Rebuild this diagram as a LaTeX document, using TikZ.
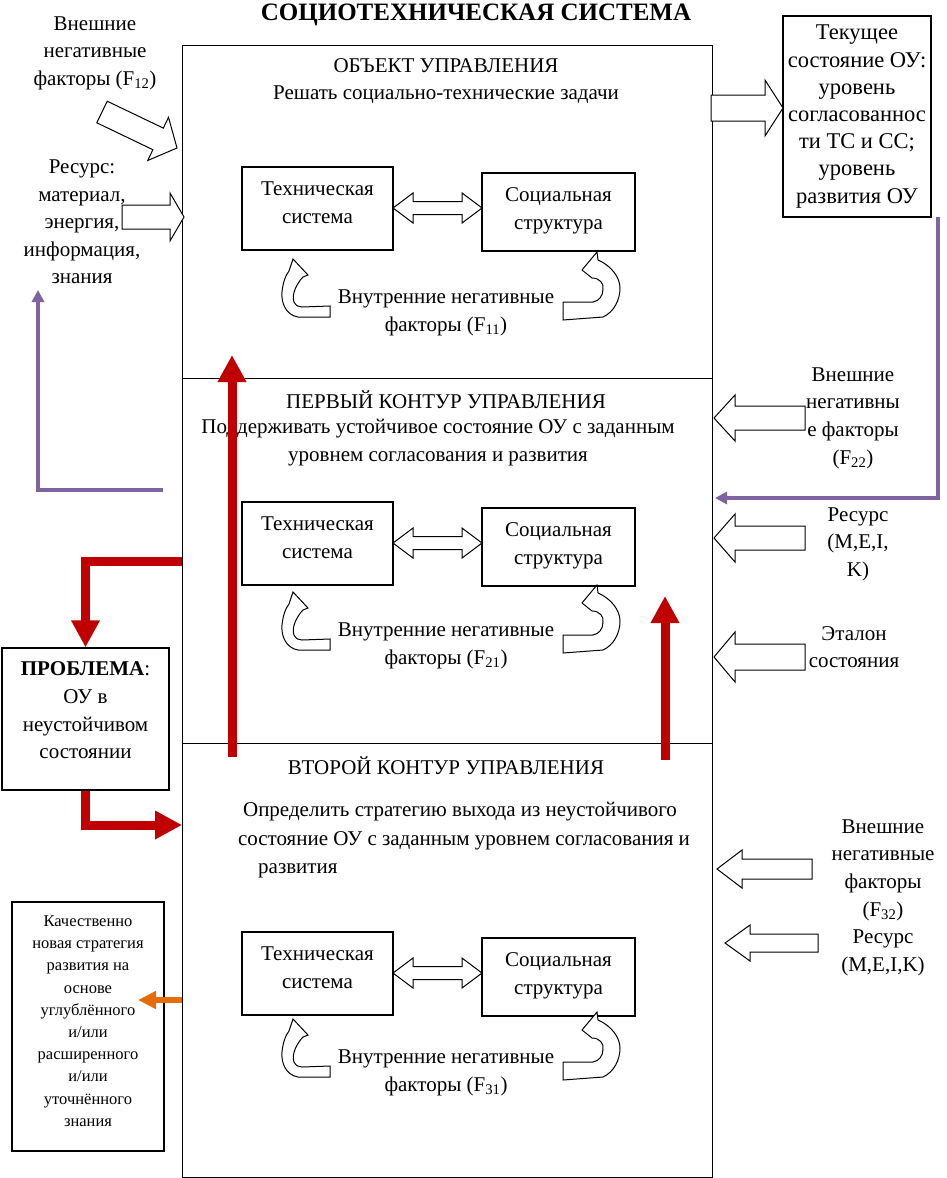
\documentclass[tikz,border=0pt]{standalone}
\usepackage{fontspec}
\setmainfont{Liberation Serif}
\usetikzlibrary{arrows.meta}
\definecolor{redA}{HTML}{C00000}
\definecolor{purp}{HTML}{8064A2}
\definecolor{orng}{HTML}{E46C0A}
\tikzset{
  txt/.style={inner sep=0pt, align=center, font=\fontsize{21}{27.6}\selectfont},
  frame/.style={draw, line width=1.3pt, inner sep=0pt},
  hollow/.style={draw, fill=white, line width=1pt, line join=miter},
  redarr/.style={draw=redA, line width=9pt, -{Triangle[width=27pt,length=27pt]}},
  purparr/.style={draw=purp, line width=3.5pt, -{Triangle[width=12pt,length=12pt]}},
  orarr/.style={draw=orng, line width=6pt, -{Triangle[width=17pt,length=18pt]}},
}
\newcommand\curvLdraw[2]{\draw[hollow, shift={(#1,#2)}] (11,0) -- (26,16) -- (21,18)
  .. controls (15,24) and (9,36) .. (12,43) .. controls (14,47) and (17,48) .. (20,48)
  -- (48,47) -- (48,58) -- (16,58) .. controls (4,56) and (-1,44) .. (0,33)
  .. controls (1,24) and (3,17) .. (7,12) -- cycle;}
\newcommand\curvRdraw[2]{\draw[hollow, shift={(#1,#2)}] (-23,0) -- (-38,18) -- (-28,26)
  .. controls (-20,26) and (-16,32) .. (-17,37) .. controls (-17,44) and (-21,49) .. (-27,50)
  -- (-57,50) -- (-57,68) -- (-17,65) .. controls (-6,60) and (0,48) .. (0,36)
  .. controls (0,26) and (-8,14) .. (-22,8) -- cycle;}
\newcommand\innersec[3]{%
  \begin{scope}[shift={(0,#2)}]
    \node[frame, minimum width=151pt, minimum height=83pt] (tech#1) at (317.5,208.5) {};
    \node[txt] (techt#1) at (317.5,202.5) {Техническая\\система};
    \node[frame, minimum width=153pt, minimum height=78pt] (soc#1) at (558.5,212) {};
    \node[txt] (soct#1) at (558.5,211) {Социальная\\структура};
    \draw[hollow] (393,208) -- (413,193) -- (413,201.5) -- (462,201.5) -- (462,193) -- (482,208)
      -- (462,223) -- (462,214.5) -- (413,214.5) -- (413,223) -- cycle;
  \end{scope}
  \begin{scope}[shift={(0,#3)}]
    \curvLdraw{282}{259}
    \curvRdraw{620}{252}
    \node[txt] (int#1) at (446,313) {Внутренние негативные\\факторы (F\textsubscript{#11})};
  \end{scope}
}
\begin{document}
\begin{tikzpicture}[x=1pt,y=-1pt]
\path[fill=white] (0,0) rectangle (947,1178);
\useasboundingbox (0,0) rectangle (947,1178);

% title
\node[txt, font=\bfseries\fontsize{25}{28}\selectfont, anchor=base] (title) at (476,20) {СОЦИОТЕХНИЧЕСКАЯ СИСТЕМА};

% main sections
\node[frame, minimum width=530pt, minimum height=333pt, anchor=north west] (s1) at (182,45) {};
\node[frame, minimum width=530pt, minimum height=365pt, anchor=north west] (s2) at (182,378) {};
\node[frame, minimum width=530pt, minimum height=434pt, anchor=north west] (s3) at (182,743) {};

\node[txt] (h1) at (446,66) {ОБЪЕКТ УПРАВЛЕНИЯ};
\node[txt] (h1b) at (446,95) {Решать социально-технические задачи};
\node[txt] (h2) at (446,400) {ПЕРВЫЙ КОНТУР УПРАВЛЕНИЯ};
\node[txt] (h2b) at (438,442.5) {Поддерживать устойчивое состояние ОУ с заданным\\уровнем согласования и развития};
\node[txt] (h3) at (446,766) {ВТОРОЙ КОНТУР УПРАВЛЕНИЯ};
\node[txt] (h3b) at (460,812) {Определить стратегию выхода из неустойчивого};
\node[txt] (h3c) at (464,841) {состояние ОУ с заданным уровнем согласования и};
\node[txt, anchor=west] (h3d) at (258,871) {развития};

\innersec{1}{0}{0}
\innersec{2}{335}{333}
\innersec{3}{765}{760}

% left texts
\node[txt] (ext1) at (95,53) {Внешние\\негативные\\факторы (F\textsubscript{12})};
\node[txt] (res1) at (82,222) {Ресурс:\\материал,\\энергия,\\информация,\\знания};

% hollow arrows left
\draw[hollow] (107.2,101.2) -- (163.3,128.1) -- (168.5,117.3) -- (177,148) -- (147.7,160.5) -- (152.9,149.7) -- (96.8,122.8) -- cycle;
\draw[hollow] (122,205) -- (170,205) -- (170,193) -- (184,217) -- (170,241) -- (170,229) -- (122,229) -- cycle;

% current state box
\node[frame, minimum width=148pt, minimum height=201pt, align=center, font=\fontsize{22.5}{27.2}\selectfont] (tek) at (857,116.5) {Текущее\\состояние ОУ:\\уровень\\согласованнос\\ти ТС и СС;\\уровень\\развития ОУ};
\draw[hollow] (711,95) -- (765,95) -- (765,80) -- (783,108) -- (765,136) -- (765,121) -- (711,121) -- cycle;

% right texts
\node[txt] (ext2) at (853,418) {Внешние\\негативны\\е факторы\\(F\textsubscript{22})};
\node[txt] (res2) at (858,544) {Ресурс\\(M,E,I,\\K)};
\node[txt] (etal) at (854,647) {Эталон\\состояния};
\node[txt] (ext3) at (883,870) {Внешние\\негативные\\факторы\\(F\textsubscript{32})};
\node[txt] (res3) at (883,953) {Ресурс\\(M,E,I,K)};

% right hollow arrows
\draw[hollow] (805,406) -- (735,406) -- (735,395) -- (714,418) -- (735,441) -- (735,430) -- (805,430) -- cycle;
\draw[hollow] (805,526) -- (735,526) -- (735,514) -- (714,538) -- (735,562) -- (735,550) -- (805,550) -- cycle;
\draw[hollow] (805,644) -- (735,644) -- (735,632) -- (714,657) -- (735,682) -- (735,670) -- (805,670) -- cycle;
\draw[hollow] (812,859) -- (742,859) -- (742,850) -- (717,869) -- (742,888) -- (742,879) -- (812,879) -- cycle;
\draw[hollow] (818,934) -- (750,934) -- (750,925) -- (725,943) -- (750,961) -- (750,952) -- (818,952) -- cycle;

% problem box
\node[frame, minimum width=167pt, minimum height=142pt] (prob) at (85.5,719) {};
\node[txt] (probt) at (85.5,710.5) {\textbf{ПРОБЛЕМА}:\\ОУ в\\неустойчивом\\состоянии};

% quality box
\node[frame, minimum width=152pt, minimum height=249pt] (kach) at (88,1026.5) {};
\node[txt, font=\fontsize{16.5}{22.2}\selectfont] (kacht) at (88,1021) {Качественно\\новая стратегия\\развития на\\основе\\углублённого\\и/или\\расширенного\\и/или\\уточнённого\\знания};

% purple connectors
\coordinate (p1) at (163,490);
\coordinate (p2) at (38,290);
\draw[purparr] (p1) -| (p2);
\coordinate (p3) at (938,217);
\coordinate (p4) at (715,498);
\draw[purparr] (p3) |- (p4);

% red connectors
\coordinate (rA) at (232,757);
\coordinate (rAt) at (232,355);
\draw[redarr] (rA) -- (rAt);
\coordinate (rB) at (665,760);
\coordinate (rBt) at (665,596);
\draw[redarr] (rB) -- (rBt);
\coordinate (c1) at (182,561);
\draw[redarr] (c1) -| (prob.north);
\coordinate (c2) at (182,825);
\draw[redarr] (prob.south) |- (c2);

% orange connector
\coordinate (o1) at (182,1000);
\coordinate (o2) at (138,1000);
\draw[orarr] (o1) -- (o2);
\end{tikzpicture}
\end{document}
